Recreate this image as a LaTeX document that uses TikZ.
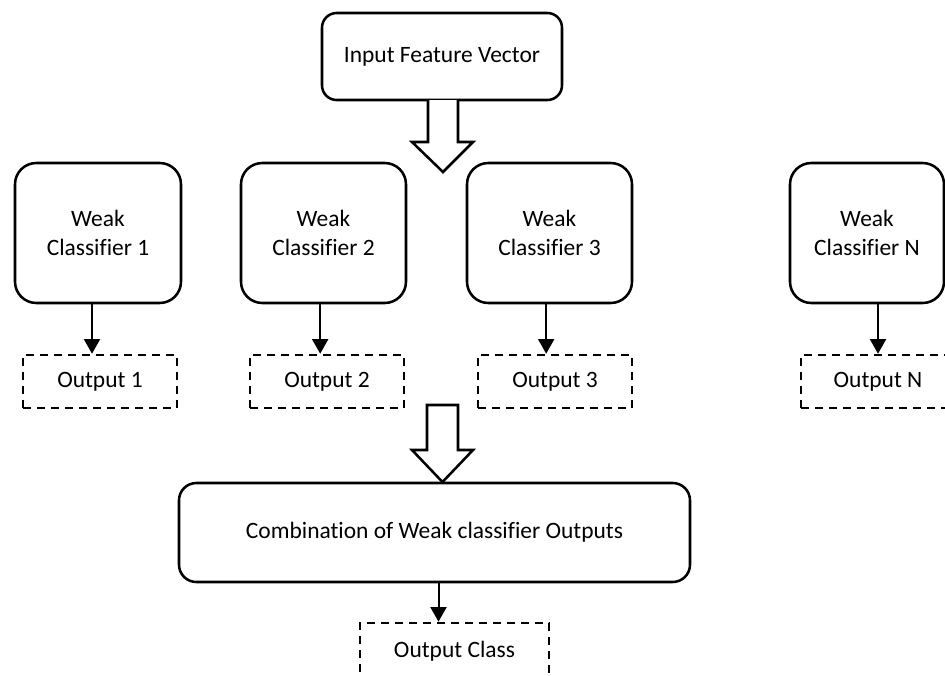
\documentclass[tikz,border=0pt]{standalone}
\usepackage{fontspec}
\setmainfont{Carlito}[Ligatures=NoCommon]
\usetikzlibrary{arrows.meta,calc}

\tikzset{
  every node/.style={font=\fontsize{17.6pt}{21.75pt}\selectfont, align=center, inner sep=0pt},
  roundbox/.style={draw, line width=1.9pt, rounded corners=#1},
  roundbox/.default=16pt,
  outbox/.style={draw, line width=1.9pt, dash pattern=on 6pt off 4.5pt},
  conn/.style={line width=1.5pt, -{Triangle[width=12pt,length=11pt]}},
  blockarrow/.style={draw, line width=1.9pt, line join=miter, fill=white}
}

\begin{document}
\begin{tikzpicture}[x=0.75pt,y=-0.75pt]
\useasboundingbox (0,0) rectangle (945,675);

% input
\node[roundbox=11pt, minimum width=180pt, minimum height=65.25pt] (in) at (442,56.5) {Input Feature Vector};

% weak classifiers
\node[roundbox, minimum width=124.5pt, minimum height=105pt] (wc1) at (98,233) {Weak\\Classifier 1};
\node[roundbox, minimum width=123.75pt, minimum height=105pt] (wc2) at (323.5,233) {Weak\\Classifier 2};
\node[roundbox, minimum width=123.75pt, minimum height=105pt] (wc3) at (549.5,233) {Weak\\Classifier 3};
\node[roundbox, minimum width=115.5pt, minimum height=105pt] (wcn) at (867,233) {Weak\\Classifier N};

% individual outputs
\node[outbox, minimum width=115.5pt, minimum height=39.75pt] (o1) at (100,381.5) {Output 1};
\node[outbox, minimum width=115.5pt, minimum height=39.75pt] (o2) at (327,381.5) {Output 2};
\node[outbox, minimum width=115.5pt, minimum height=39.75pt] (o3) at (555,381.5) {Output 3};
\node[outbox, minimum width=115.5pt, minimum height=39.75pt] (on) at (878,381.5) {Output N};

% combination and final output
\node[roundbox=13pt, minimum width=383.25pt, minimum height=74.25pt] (comb) at (434.5,532.5) {Combination of Weak classifier Outputs};
\node[outbox, minimum width=141.75pt, minimum height=42.75pt] (oc) at (454.5,651.5) {Output Class};

% classifier -> output connectors
\draw[conn] ([xshift=-4.5pt]wc1.south) -- ([xshift=-4.5pt]wc1.south |- o1.north);
\draw[conn] ([xshift=-2.5pt]wc2.south) -- ([xshift=-2.5pt]wc2.south |- o2.north);
\draw[conn] ([xshift=-2.5pt]wc3.south) -- ([xshift=-2.5pt]wc3.south |- o3.north);
\draw[conn] (on.north |- wcn.south) -- (on.north);
\draw[conn] ([xshift=3pt]comb.south) -- ([xshift=3pt]comb.south |- oc.north);

% block arrows
\coordinate (ba1) at (443,100);
\draw[blockarrow] ($(ba1)+(-15,0)$) -- ($(ba1)+(-15,42)$) -- ($(ba1)+(-31,42)$) -- ($(ba1)+(0,72)$)
  -- ($(ba1)+(30,42)$) -- ($(ba1)+(15,42)$) -- ($(ba1)+(15,0)$);
\coordinate (ba2) at (442.5,405);
\draw[blockarrow] ($(ba2)+(-15.5,0)$) -- ($(ba2)+(-15.5,45)$) -- ($(ba2)+(-30.5,45)$) -- ($(ba2)+(0,77)$)
  -- ($(ba2)+(30.5,45)$) -- ($(ba2)+(15.5,45)$) -- ($(ba2)+(15.5,0)$) -- cycle;
\end{tikzpicture}
\end{document}
